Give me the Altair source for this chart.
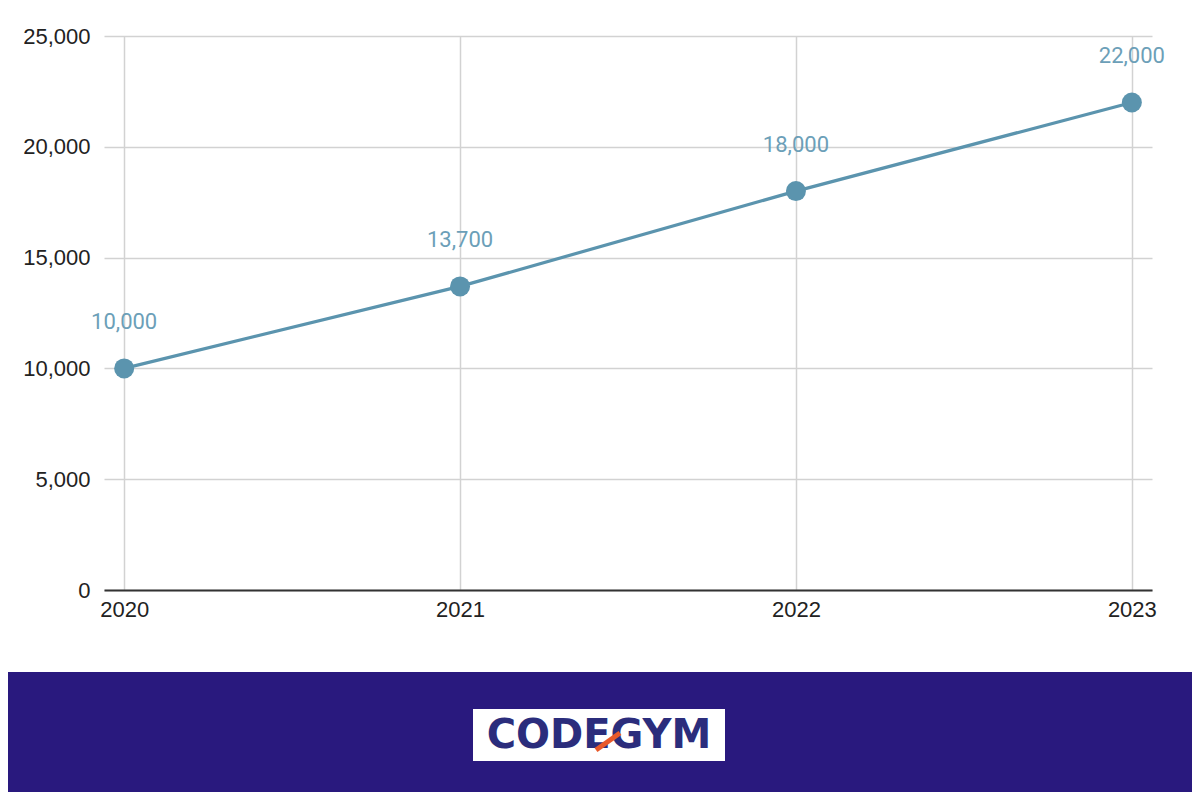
import altair as alt
import pandas as pd

years = ["2020", "2021", "2022", "2023"]
values = [10000, 13700, 18000, 22000]
y_ticks = [0, 5000, 10000, 15000, 20000, 25000]
brand = ["CODEGYM"]

df = pd.DataFrame({"year": years, "value": values})
one = pd.DataFrame({"brand": brand})

W, H = 1048, 554
LINE = "#5b94ae"
LABEL = "#6c9fb8"

x = alt.X("year:O", sort=years,
          scale=alt.Scale(type="point", padding=0.06),
          axis=alt.Axis(title=None, labelAngle=0, grid=True, gridColor="#d2d2d2",
                        gridWidth=1.5, ticks=False, domainColor="#333333",
                        domainWidth=2, labelFontSize=22, labelColor="#222222",
                        labelFont="Liberation Sans", labelPadding=9))
y = alt.Y("value:Q", scale=alt.Scale(domain=[0, 25000]),
          axis=alt.Axis(title=None, values=y_ticks, format=",.0f", grid=True,
                        gridColor="#d2d2d2", gridWidth=1.5, ticks=False, domain=False,
                        labelFontSize=22, labelColor="#222222",
                        labelFont="Liberation Sans", labelPadding=14))

base = alt.Chart(df)
line = base.mark_line(color=LINE, strokeWidth=3.2).encode(x=x, y=y)
pts = base.mark_circle(color=LINE, size=400, opacity=1).encode(x=x, y=y)
labels = base.mark_text(color=LABEL, fontSize=22, font="Roboto", dy=-46).encode(
    x=x, y=y, text=alt.Text("value:Q", format=",.0f"))

ob = alt.Chart(one)
banner = ob.mark_rect(color="#29197e").encode(
    x=alt.value(-96), x2=alt.value(W + 60), y=alt.value(636), y2=alt.value(800))
logo_box = ob.mark_rect(color="#ffffff").encode(
    x=alt.value(369), x2=alt.value(621), y=alt.value(673), y2=alt.value(725))
logo_text = ob.mark_text(color="#2b2d7c", fontSize=40, font="DejaVu Sans",
                         fontWeight="bold", baseline="middle", align="center").encode(
    x=alt.value(495), y=alt.value(700), text="brand:N")
slash = ob.mark_rule(color="#e8592a", strokeWidth=5).encode(
    x=alt.value(492), x2=alt.value(516), y=alt.value(714), y2=alt.value(697))

chart = alt.layer(line, pts, labels, banner, logo_box, logo_text, slash).properties(
    width=W, height=H,
    autosize=alt.AutoSizeParams(type="none"),
    padding={"left": 96, "top": 28, "right": 40, "bottom": 202},
    background="#ffffff",
).configure_view(stroke=None)

chart.save("out.html", embed_options={"renderer": "svg", "actions": False})
